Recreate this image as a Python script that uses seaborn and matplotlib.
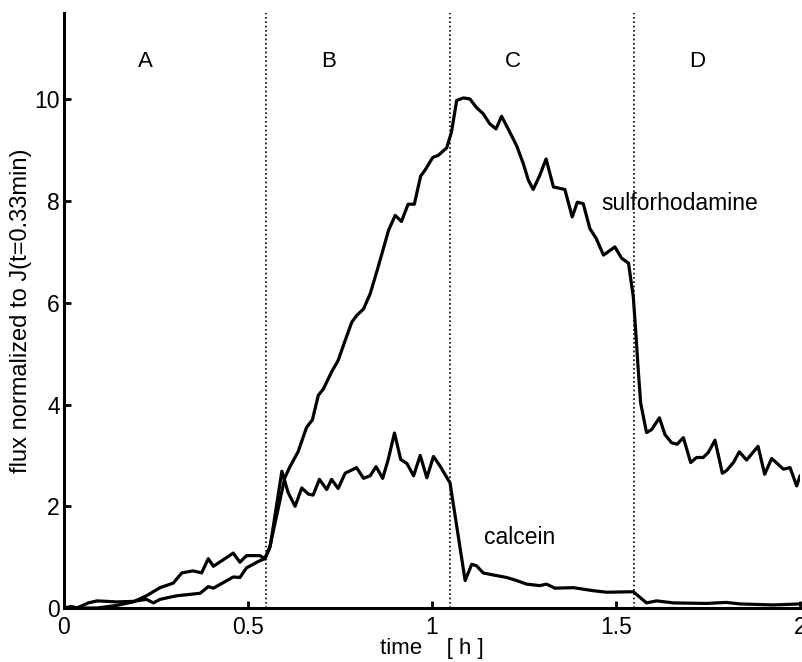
import matplotlib
matplotlib.use("Agg")
import matplotlib.pyplot as plt
import seaborn as sns

# sulforhodamine trace (time in h, normalized flux)
sr_t = [0.0, 0.02, 0.035, 0.066, 0.09, 0.143, 0.188, 0.224, 0.243, 0.261, 0.306, 0.37,
        0.392, 0.406, 0.46, 0.478, 0.496, 0.532, 0.546, 0.56, 0.6, 0.614, 0.636, 0.659,
        0.675, 0.691, 0.705, 0.727, 0.745, 0.764, 0.782, 0.795, 0.814, 0.832, 0.851,
        0.864, 0.882, 0.9, 0.917, 0.935, 0.952, 0.969, 0.981, 1.002, 1.017, 1.04, 1.053,
        1.067, 1.085, 1.103, 1.121, 1.139, 1.157, 1.174, 1.189, 1.207, 1.23, 1.248,
        1.262, 1.275, 1.293, 1.31, 1.33, 1.361, 1.381, 1.395, 1.411, 1.429, 1.446,
        1.466, 1.497, 1.515, 1.534, 1.547, 1.554, 1.561, 1.567, 1.583, 1.597, 1.618,
        1.633, 1.651, 1.666, 1.683, 1.703, 1.719, 1.737, 1.751, 1.769, 1.789, 1.8,
        1.819, 1.835, 1.855, 1.886, 1.904, 1.923, 1.955, 1.973, 1.991, 2.0]
sr_flux = [0.0, 0.03, 0.0, 0.1, 0.14, 0.12, 0.13, 0.17, 0.1, 0.17, 0.24, 0.29,
           0.42, 0.39, 0.61, 0.6, 0.79, 0.93, 0.97, 1.22, 2.56, 2.78, 3.07, 3.55,
           3.7, 4.18, 4.31, 4.64, 4.87, 5.26, 5.62, 5.75, 5.88, 6.18, 6.64,
           6.97, 7.43, 7.72, 7.6, 7.94, 7.94, 8.49, 8.61, 8.86, 8.9, 9.05, 9.36,
           9.98, 10.03, 10.01, 9.84, 9.72, 9.52, 9.42, 9.67, 9.42, 9.09, 8.74,
           8.41, 8.23, 8.51, 8.83, 8.28, 8.23, 7.69, 7.98, 7.95, 7.46, 7.27,
           6.94, 7.1, 6.88, 6.78, 6.12, 5.4, 4.62, 4.03, 3.45, 3.51, 3.74,
           3.41, 3.25, 3.22, 3.35, 2.86, 2.96, 2.96, 3.06, 3.3, 2.65, 2.7,
           2.86, 3.07, 2.91, 3.18, 2.63, 2.94, 2.73, 2.76, 2.4, 2.6]

# calcein trace
ca_t = [0.0, 0.09, 0.143, 0.188, 0.224, 0.261, 0.297, 0.32, 0.351, 0.374, 0.392, 0.406,
        0.433, 0.46, 0.478, 0.496, 0.532, 0.546, 0.56, 0.592, 0.609, 0.628, 0.646,
        0.664, 0.677, 0.694, 0.714, 0.727, 0.745, 0.764, 0.795, 0.814, 0.832, 0.848,
        0.866, 0.881, 0.898, 0.915, 0.932, 0.95, 0.968, 0.986, 1.004, 1.022, 1.049,
        1.09, 1.108, 1.121, 1.139, 1.166, 1.203, 1.23, 1.257, 1.293, 1.311, 1.334,
        1.384, 1.438, 1.475, 1.547, 1.583, 1.61, 1.656, 1.746, 1.8, 1.837, 1.927, 2.0]
ca_flux = [0.0, 0.0, 0.05, 0.12, 0.24, 0.4, 0.49, 0.69, 0.73, 0.69, 0.97, 0.82,
           0.95, 1.08, 0.9, 1.03, 1.03, 0.97, 1.2, 2.69, 2.27, 2.0, 2.36,
           2.24, 2.22, 2.53, 2.33, 2.53, 2.35, 2.65, 2.76, 2.55, 2.6, 2.78,
           2.55, 2.92, 3.44, 2.92, 2.84, 2.6, 3.0, 2.56, 2.98, 2.79, 2.46,
           0.54, 0.86, 0.83, 0.69, 0.65, 0.6, 0.54, 0.47, 0.44, 0.47, 0.39,
           0.4, 0.34, 0.31, 0.32, 0.1, 0.14, 0.1, 0.09, 0.11, 0.08, 0.06, 0.08]

phase_edges = [0.55, 1.05, 1.55]
phase_names = ["A", "B", "C", "D"]
phase_label_x = [0.22, 0.72, 1.22, 1.72]

sns.set_style("ticks")
plt.rcParams['font.family'] = ['Liberation Sans', 'DejaVu Sans']
plt.rcParams['text.color'] = 'black'
plt.rcParams['axes.labelcolor'] = 'black'

fig = plt.figure(figsize=(8.02, 6.62), dpi=100)
ax = fig.add_axes([64 / 802, 54 / 662, 736 / 802, 595 / 662])

sns.lineplot(x=sr_t, y=sr_flux, ax=ax, color='black', lw=2.3, sort=False)
sns.lineplot(x=ca_t, y=ca_flux, ax=ax, color='black', lw=2.3, sort=False)

for xe in phase_edges:
    ax.axvline(xe, color='black', lw=1.2, linestyle=(0, (1, 1.6)))

for name, xp in zip(phase_names, phase_label_x):
    ax.text(xp, 10.75, name, ha='center', va='center', fontsize=16)

ax.text(1.46, 7.95, "sulforhodamine", ha='left', va='center', fontsize=16.5)
ax.text(1.14, 1.39, "calcein", ha='left', va='center', fontsize=16.5)

ax.set_xlim(0, 2)
ax.set_ylim(0, 11.7)
ax.set_xticks([0, 0.5, 1, 1.5, 2])
ax.set_xticklabels(["0", "0.5", "1", "1.5", "2"])
ax.set_yticks([0, 2, 4, 6, 8, 10])
ax.tick_params(axis='both', direction='in', length=5, width=2, labelsize=16.5,
               colors='black', labelcolor='black')
ax.tick_params(axis='x', pad=6)
ax.tick_params(axis='y', pad=3)

for side in ['top', 'right']:
    ax.spines[side].set_visible(False)
for side in ['left', 'bottom']:
    ax.spines[side].set_linewidth(2.2)
    ax.spines[side].set_color('black')

ax.set_xlabel("time    [ h ]", fontsize=16, labelpad=-1)
ax.set_ylabel("flux normalized to J(t=0.33min)", fontsize=17, labelpad=1.5)

fig.savefig("out.png", dpi=100)
